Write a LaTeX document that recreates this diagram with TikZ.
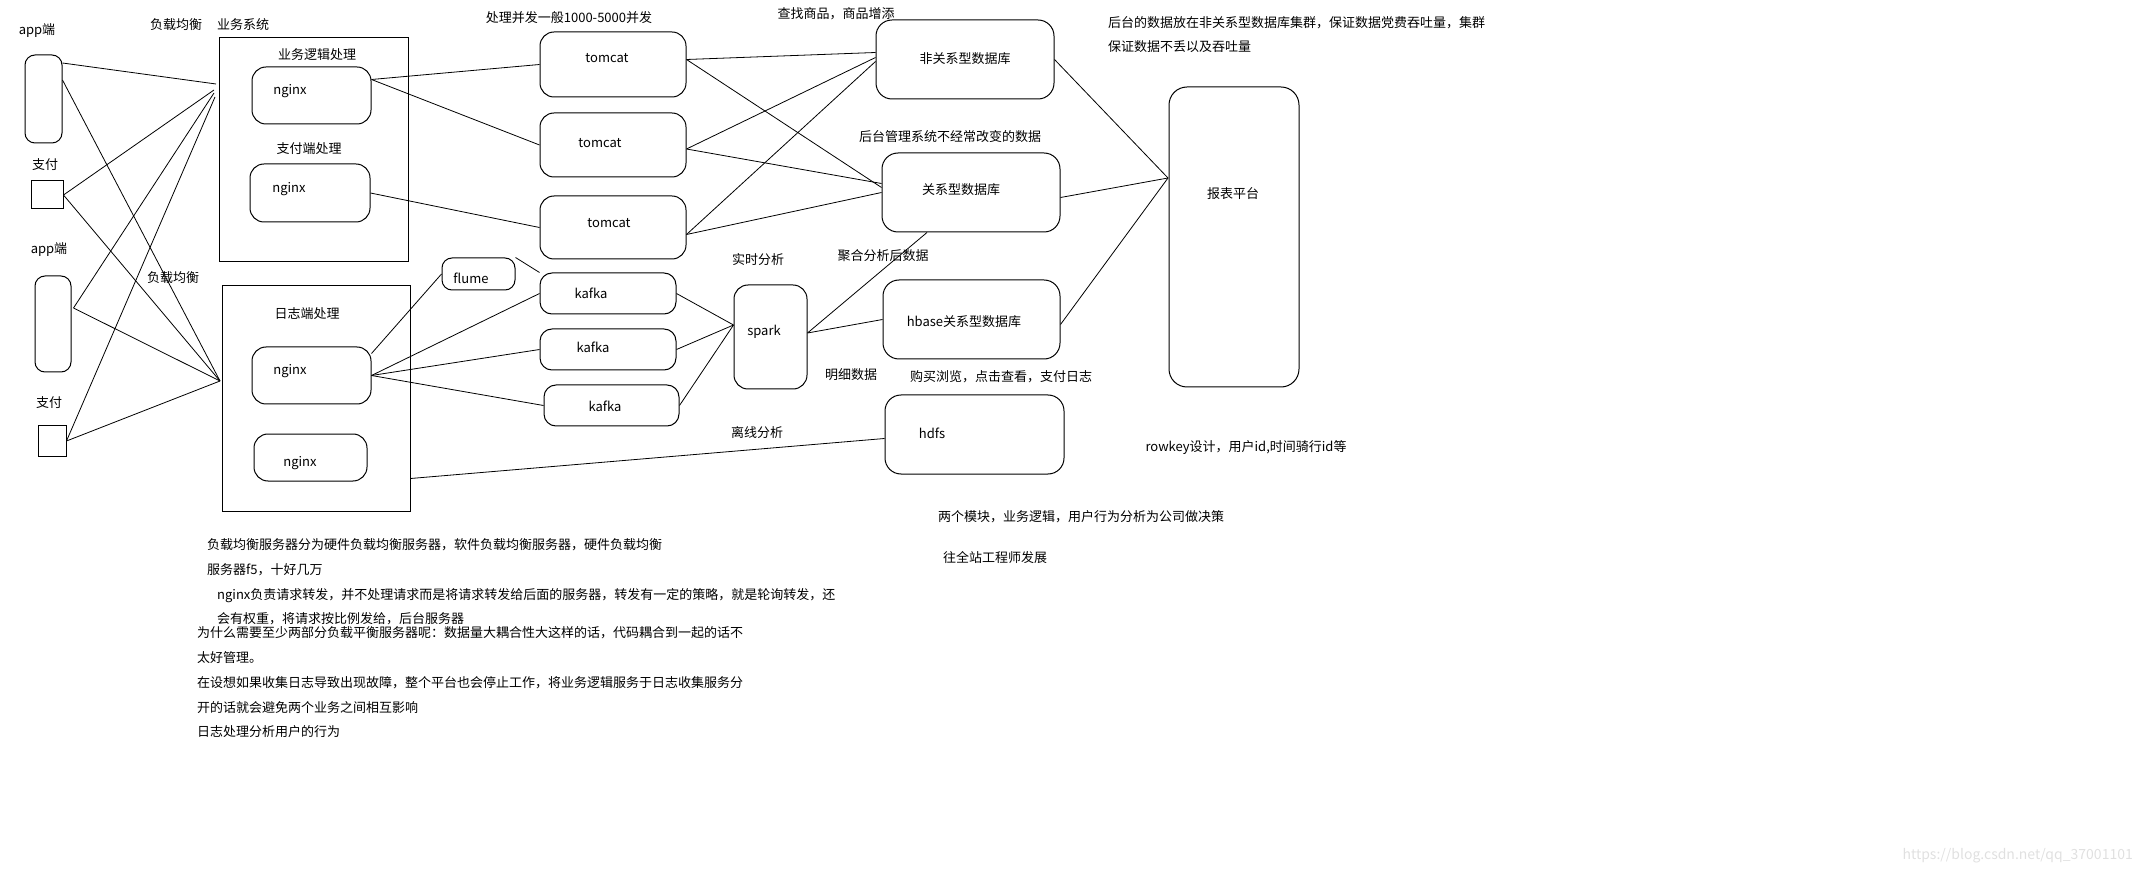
\documentclass[tikz,border=0pt]{standalone}
\usepackage{fontspec}
\setmainfont{Noto Sans CJK SC}
\usepackage{tikz}

\begin{document}
\begin{tikzpicture}[x=1pt,y=-1pt,
  every node/.style={font=\fontsize{13pt}{15pt}\selectfont,inner sep=0pt},
  rbox/.style={draw,line width=1pt,rounded corners=14pt},
  sbox/.style={draw,line width=1pt},
  link/.style={line width=0.8pt}]
\useasboundingbox (0,0) rectangle (2142,874);

% clients
\node[rbox,rounded corners=10pt,minimum width=37pt,minimum height=88pt] (app1) at (43.5,99) {};
\node[sbox,minimum width=32pt,minimum height=28pt] (pay1) at (47,195) {};
\node[rbox,rounded corners=10pt,minimum width=36pt,minimum height=96pt] (app2) at (53,324) {};
\node[sbox,minimum width=28pt,minimum height=30pt] (pay2) at (52,441) {};

\node at (37,31) {app端};
\node at (45,165) {支付};
\node at (49,250) {app端};
\node at (49,403) {支付};
\node at (176,25) {负载均衡};
\node at (243,25) {业务系统};
\node at (173,278) {负载均衡};

% load balancers
\node[sbox,minimum width=189pt,minimum height=224pt] (biz) at (313.5,150) {};
\node[sbox,minimum width=188pt,minimum height=225pt] (logs) at (316,398.5) {};

\node at (317,55) {业务逻辑处理};
\node[rbox,minimum width=119pt,minimum height=57pt] (ngx1) at (311.5,95.5) {};
\node at (290,91) {nginx};
\node at (309,149) {支付端处理};
\node[rbox,minimum width=120pt,minimum height=58pt] (ngx2) at (310,193) {};
\node at (289,189) {nginx};
\node at (307,314) {日志端处理};
\node[rbox,minimum width=119pt,minimum height=57pt] (ngx3) at (311.5,375.5) {};
\node at (290,371) {nginx};
\node[rbox,minimum width=113pt,minimum height=47pt] (ngx4) at (310.5,457.5) {};
\node at (300,463) {nginx};

% servers
\node at (569,18) {处理并发一般1000-5000并发};
\node[rbox,minimum width=146pt,minimum height=65pt] (tc1) at (613,64.5) {};
\node at (607,58) {tomcat};
\node[rbox,minimum width=146pt,minimum height=64pt] (tc2) at (613,145) {};
\node at (600,143) {tomcat};
\node[rbox,minimum width=146pt,minimum height=63pt] (tc3) at (613,227.5) {};
\node at (609,223) {tomcat};

\node[rbox,rounded corners=10pt,minimum width=73pt,minimum height=32pt] (flume) at (478.5,274) {};
\node at (471,278) {flume};
\node[rbox,rounded corners=12pt,minimum width=136pt,minimum height=41pt] (kfk1) at (608,293.5) {};
\node at (591,293) {kafka};
\node[rbox,rounded corners=12pt,minimum width=136pt,minimum height=41pt] (kfk2) at (608,349.5) {};
\node at (593,347) {kafka};
\node[rbox,rounded corners=12pt,minimum width=135pt,minimum height=41pt] (kfk3) at (611.5,405.5) {};
\node at (605,406) {kafka};

\node at (758,260) {实时分析};
\node[rbox,minimum width=73pt,minimum height=104pt] (spark) at (770.5,337) {};
\node at (764,332) {spark};

% storage
\node at (836,14) {查找商品，商品增添};
\node[rbox,rounded corners=16pt,minimum width=178pt,minimum height=79pt] (nosql) at (965,59.5) {};
\node at (965,59) {非关系型数据库};
\node at (950,137) {后台管理系统不经常改变的数据};
\node[rbox,rounded corners=16pt,minimum width=178pt,minimum height=79pt] (rdb) at (971,192.5) {};
\node at (961,190) {关系型数据库};
\node at (883,256) {聚合分析后数据};
\node[rbox,rounded corners=16pt,minimum width=177pt,minimum height=79pt] (hbase) at (971.5,319.5) {};
\node at (964,322) {hbase关系型数据库};
\node at (851,375) {明细数据};
\node at (1001,377) {购买浏览，点击查看，支付日志};
\node at (757,433) {离线分析};
\node[rbox,rounded corners=16pt,minimum width=179pt,minimum height=79pt] (hdfs) at (974.5,434.5) {};
\node at (932,433) {hdfs};

\node[rbox,rounded corners=18pt,minimum width=130pt,minimum height=300pt] (rep) at (1234,237) {};
\node at (1233,194) {报表平台};
\node[anchor=west] at (1108,23) {后台的数据放在非关系型数据库集群，保证数据党费吞吐量，集群};
\node[anchor=west] at (1108,47) {保证数据不丢以及吞吐量};
\node at (1246,448) {rowkey设计，用户id,时间骑行id等};
\node[anchor=west] at (938,517) {两个模块，业务逻辑，用户行为分析为公司做决策};
\node[anchor=west] at (943,558) {往全站工程师发展};

% notes
\node[anchor=west] at (207,545) {负载均衡服务器分为硬件负载均衡服务器，软件负载均衡服务器，硬件负载均衡};
\node[anchor=west] at (207,570) {服务器f5，十好几万};
\node[anchor=west] at (217,596) {nginx负责请求转发，并不处理请求而是将请求转发给后面的服务器，转发有一定的策略，就是轮询转发，还};
\node[anchor=west] at (217,619) {会有权重，将请求按比例发给，后台服务器};
\node[anchor=west] at (197,633) {为什么需要至少两部分负载平衡服务器呢：数据量大耦合性大这样的话，代码耦合到一起的话不};
\node[anchor=west] at (197,658) {太好管理。};
\node[anchor=west] at (197,683) {在设想如果收集日志导致出现故障，整个平台也会停止工作，将业务逻辑服务于日志收集服务分};
\node[anchor=west] at (197,708) {开的话就会避免两个业务之间相互影响};
\node[anchor=west] at (197,732) {日志处理分析用户的行为};
\node[anchor=east,text=black!12,font=\fontsize{14pt}{16pt}\selectfont] at (2133,856) {https://blog.csdn.net/qq\_37001101};

% links
\coordinate (bizin1) at (216,84);
\coordinate (bizin2) at (214,90);
\coordinate (bizin3) at (214,93);
\coordinate (bizin4) at (215,97);
\coordinate (login) at (220,381);
\coordinate (repin) at (1168,178);

\draw[link] ([yshift=36pt]app1.east) -- (bizin1);
\draw[link] ([yshift=19pt]app1.east) -- (login);
\draw[link] (pay1.east) -- (bizin2);
\draw[link] (pay1.east) -- (login);
\draw[link] ([xshift=2pt,yshift=16pt]app2.east) -- (bizin3);
\draw[link] ([xshift=2pt,yshift=16pt]app2.east) -- (login);
\draw[link] (pay2.east) -- (bizin4);
\draw[link] (pay2.east) -- (login);

\draw[link] ([yshift=16pt]ngx1.east) -- (tc1.west);
\draw[link] ([yshift=16pt]ngx1.east) -- (tc2.west);
\draw[link] (ngx2.east) -- (tc3.west);

\draw[link] ([yshift=22pt]ngx3.east) -- (flume.west);
\draw[link] (flume.north east) -- (kfk1.north west);
\draw[link] (ngx3.east) -- (kfk1.west);
\draw[link] (ngx3.east) -- (kfk2.west);
\draw[link] (ngx3.east) -- (kfk3.west);
\draw[link] (kfk1.east) -- ([yshift=12pt]spark.west);
\draw[link] (kfk2.east) -- ([yshift=12pt]spark.west);
\draw[link] (kfk3.east) -- ([yshift=12pt]spark.west);

\draw[link] ([yshift=5pt]tc1.east) -- ([yshift=7pt]nosql.west);
\draw[link] ([yshift=5pt]tc1.east) -- ([yshift=5pt]rdb.west);
\draw[link] ([yshift=-4pt]tc2.east) -- ([yshift=2pt]nosql.west);
\draw[link] ([yshift=-4pt]tc2.east) -- ([yshift=9pt]rdb.west);
\draw[link] ([yshift=-7pt]tc3.east) -- ([yshift=-2pt]nosql.west);
\draw[link] ([yshift=-7pt]tc3.east) -- (rdb.west);

\draw[link] (nosql.east) -- (repin);
\draw[link] ([yshift=-5pt]rdb.east) -- (repin);
\draw[link] ([yshift=-5pt]hbase.east) -- (repin);
\draw[link] ([yshift=4pt]spark.east) -- (hbase.west);
\draw[link] ([yshift=4pt]spark.east) -- ([xshift=-44pt]rdb.south);
\draw[link] ([yshift=-80pt]logs.east) -- ([yshift=-4pt]hdfs.west);
\end{tikzpicture}
\end{document}
